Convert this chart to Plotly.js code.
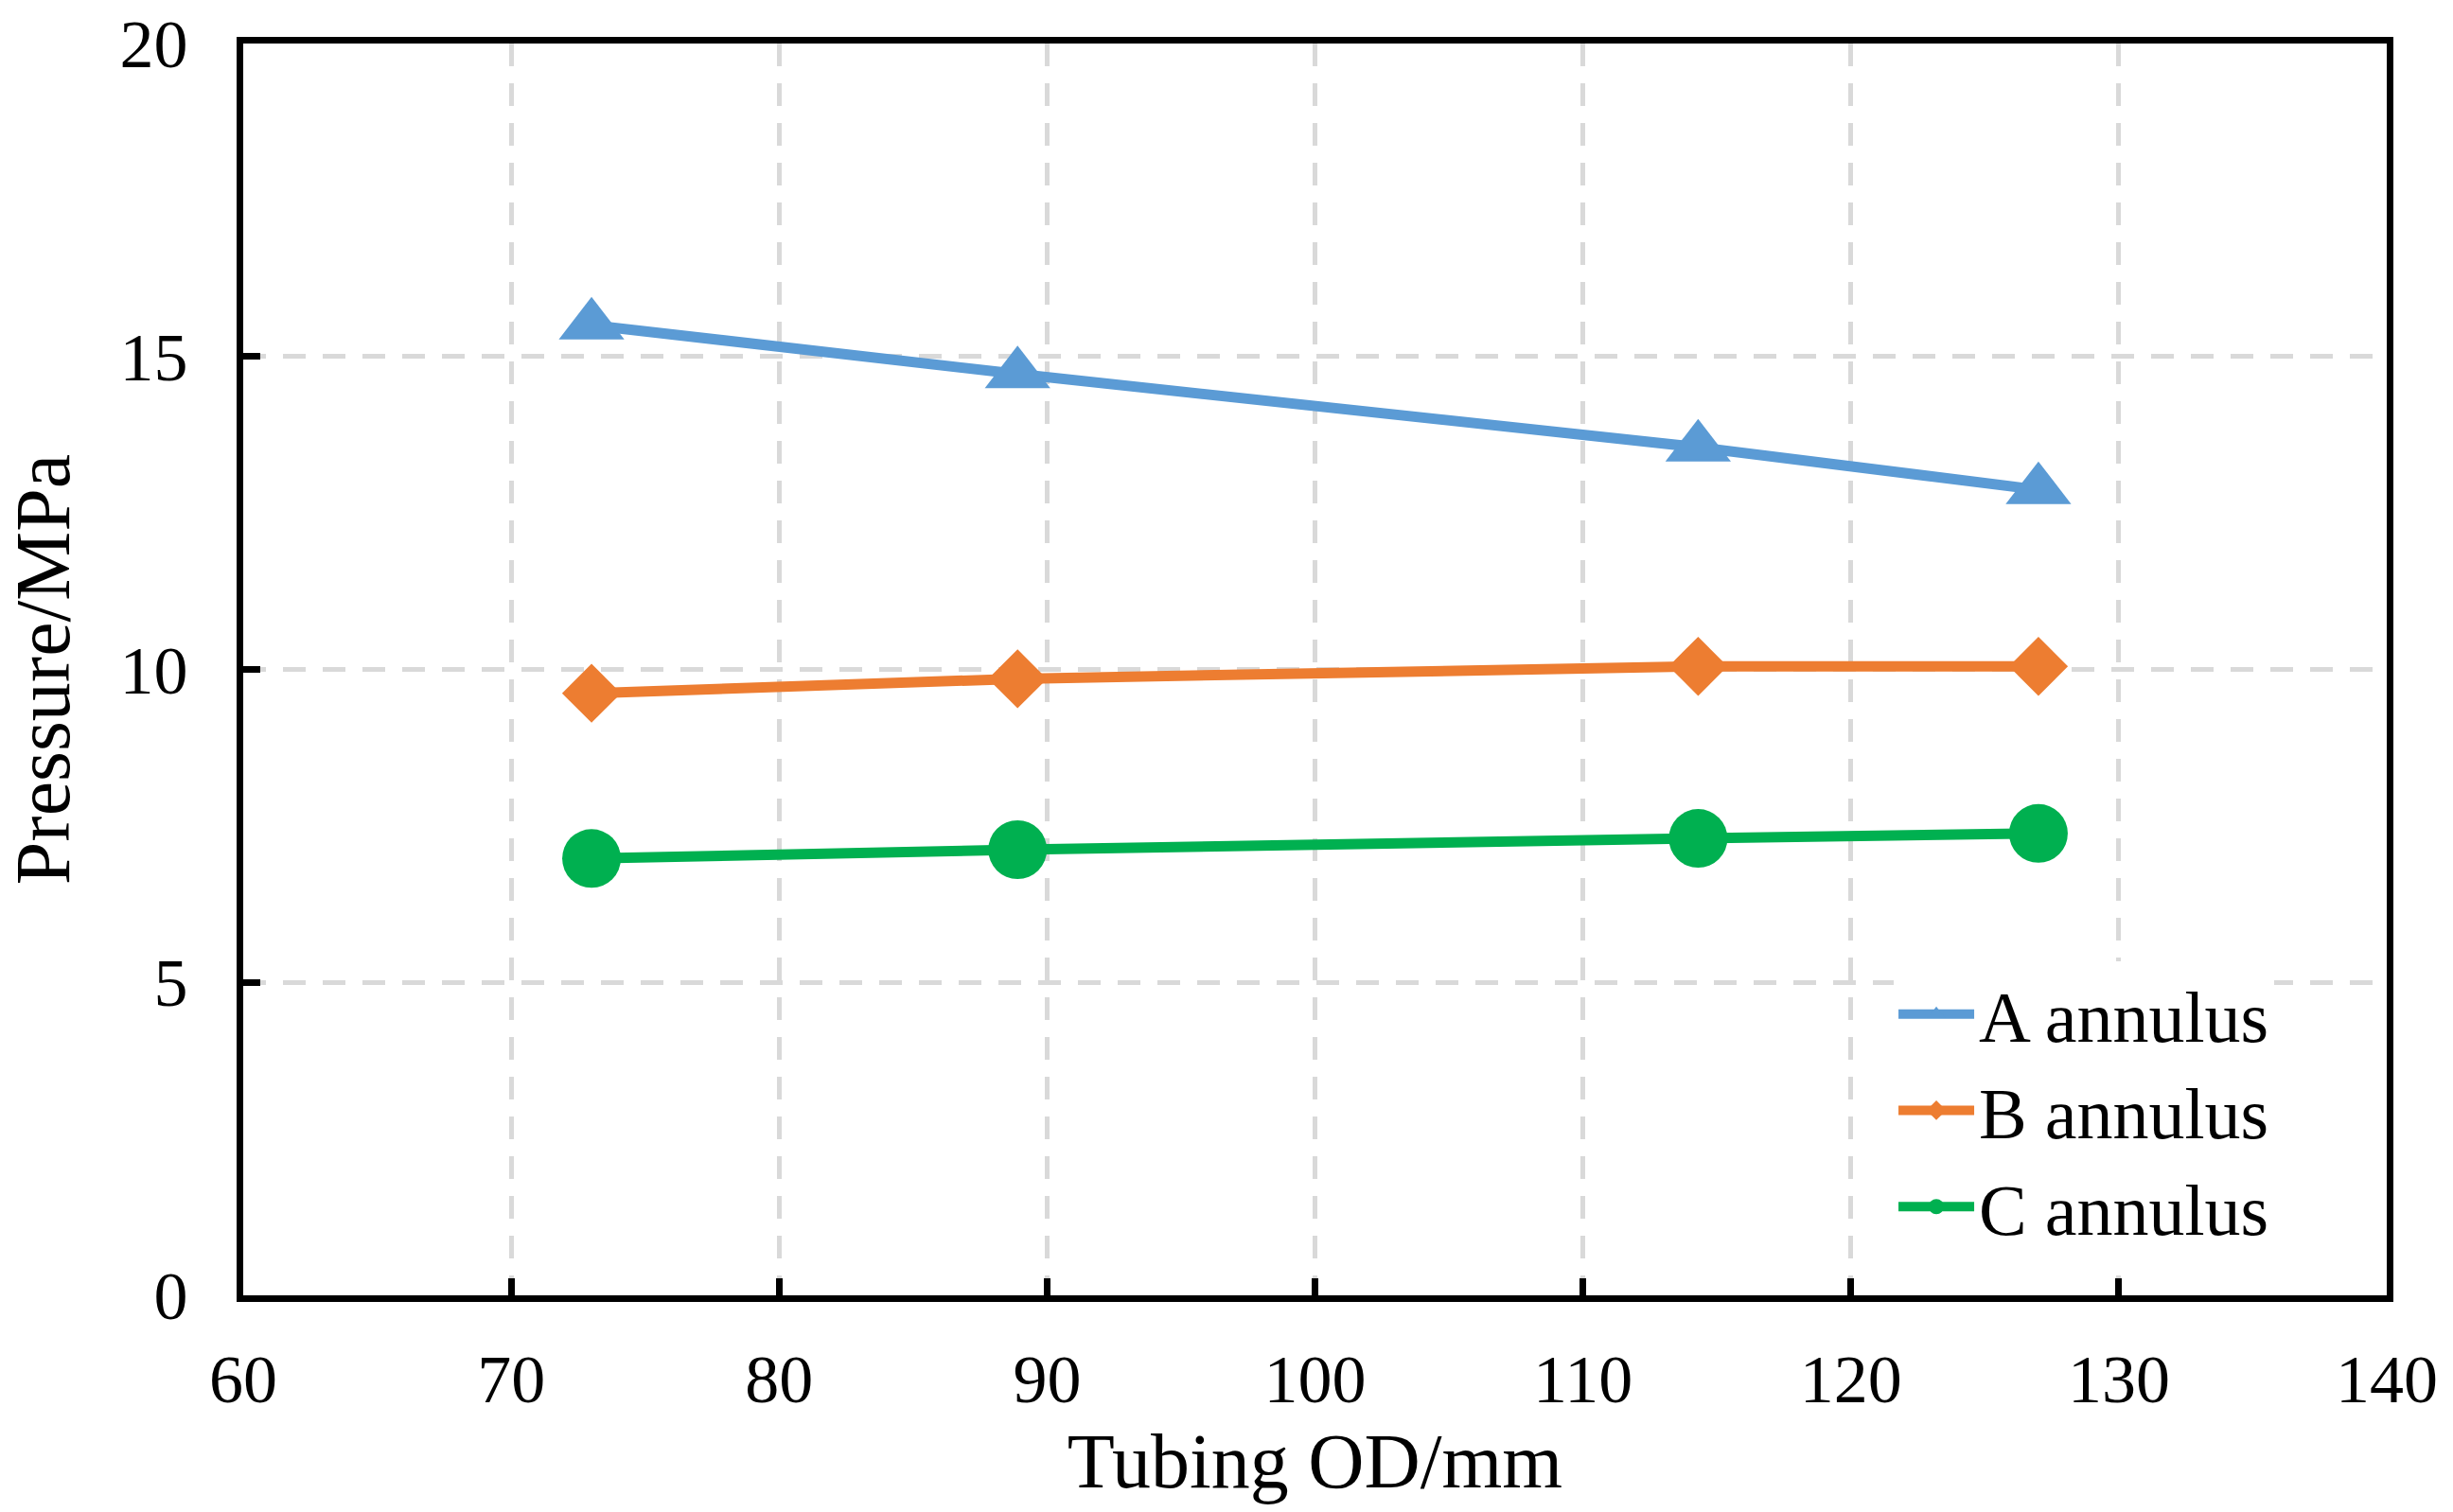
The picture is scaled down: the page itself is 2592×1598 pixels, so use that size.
<!DOCTYPE html>
<html>
<head>
<meta charset="utf-8">
<script src="https://cdn.plot.ly/plotly-3.0.1.min.js"></script>
<style>html,body{margin:0;padding:0;background:#fff;}#chart{width:2592px;height:1598px;}</style>
</head>
<body>
<div id="chart"></div>
<script>
const tubingOD = [73, 88.9, 114.3, 127];
const aAnnulus = [15.5, 14.72, 13.55, 12.87];
const bAnnulus = [9.62, 9.85, 10.05, 10.05];
const cAnnulus = [6.98, 7.12, 7.3, 7.38];
const seriesNames = ['A annulus', 'B annulus', 'C annulus'];
const xTicks = [60, 70, 80, 90, 100, 110, 120, 130, 140];
const yTicks = [0, 5, 10, 15, 20];

const FONT = 'Liberation Serif, Times New Roman, serif';
const traces = [
  {x: tubingOD, y: aAnnulus, name: seriesNames[0], mode: 'lines+markers',
   line: {color: '#5B9BD5', width: 11}, marker: {symbol: 'triangle-up', size: 60, color: '#5B9BD5'}},
  {x: tubingOD, y: bAnnulus, name: seriesNames[1], mode: 'lines+markers',
   line: {color: '#ED7D31', width: 11}, marker: {symbol: 'diamond', size: 48, color: '#ED7D31'}},
  {x: tubingOD, y: cAnnulus, name: seriesNames[2], mode: 'lines+markers',
   line: {color: '#00B050', width: 11}, marker: {symbol: 'circle', size: 62, color: '#00B050'}}
];

const axisCommon = {
  showline: true, linecolor: '#000', linewidth: 7, mirror: true,
  ticks: 'inside', ticklen: 18, tickwidth: 7, tickcolor: '#000',
  showgrid: true, gridcolor: '#D9D9D9', gridwidth: 5, griddash: '24px,18px',
  zeroline: false, tickfont: {family: FONT, size: 72, color: '#000'}
};

const layout = {
  width: 2592, height: 1598,
  paper_bgcolor: '#fff', plot_bgcolor: '#fff',
  margin: {l: 257, r: 70, t: 46, b: 229},
  showlegend: true,
  legend: {x: 0.77, y: 0.267, xanchor: 'left', yanchor: 'top', bgcolor: '#fff',
           font: {family: FONT, size: 76, color: '#000'}, itemwidth: 80, tracegroupgap: 0},
  xaxis: Object.assign({}, axisCommon, {
    range: [60, 140], tickvals: xTicks, ticktext: xTicks.map(String),
    ticklabelstandoff: 20,
    title: {text: 'Tubing OD/mm', font: {family: FONT, size: 82, color: '#000'}, standoff: 20}
  }),
  yaxis: Object.assign({}, axisCommon, {
    range: [0, 20], tickvals: yTicks, ticktext: yTicks.map(String),
    ticklabelstandoff: 37,
    title: {text: 'Pressure/MPa', font: {family: FONT, size: 82, color: '#000'}, standoff: 28}
  }),
  font: {family: FONT, color: '#000'}
};

Plotly.newPlot('chart', traces, layout, {displayModeBar: false, staticPlot: true});
</script>
</body>
</html>
